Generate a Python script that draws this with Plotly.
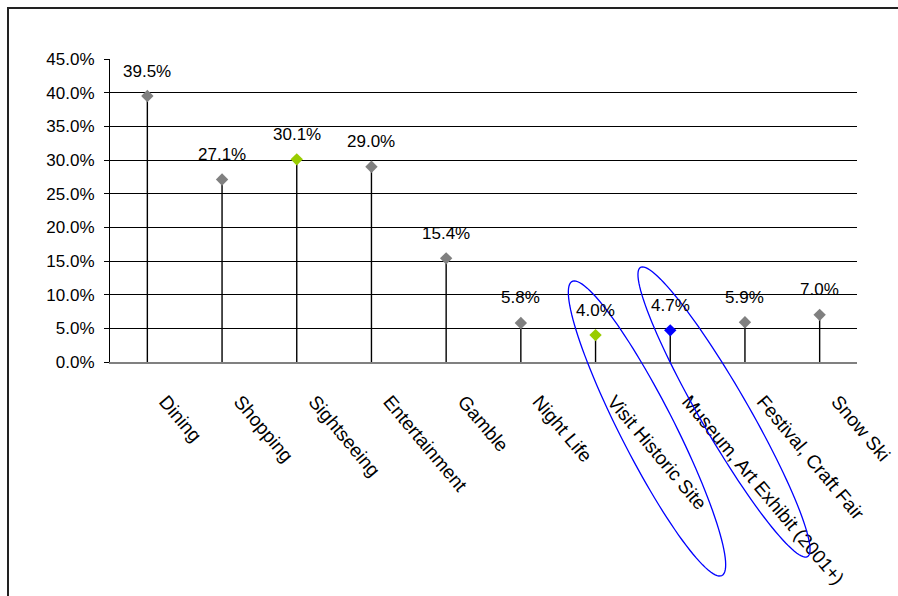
import numpy as np
import plotly.graph_objects as go

# Share of visitors taking part in each activity
categories = [
    "Dining", "Shopping", "Sightseeing", "Entertainment", "Gamble",
    "Night Life", "Visit Historic Site", "Museum, Art Exhibit (2001+)",
    "Festival, Craft Fair", "Snow Ski",
]
shares = [0.395, 0.271, 0.301, 0.290, 0.154, 0.058, 0.040, 0.047, 0.059, 0.070]
marker_colors = [
    "#808080", "#808080", "#99CC00", "#808080", "#808080",
    "#808080", "#99CC00", "#0000FF", "#808080", "#808080",
]
y_ticks = [0.0, 0.05, 0.10, 0.15, 0.20, 0.25, 0.30, 0.35, 0.40, 0.45]

W, H = 898, 596
ML, MR, MT, MB = 110, 41, 59, 234
PW, PH = W - ML - MR, H - MT - MB
FONT = "Liberation Sans, Arial, sans-serif"
FS = 17
FS_CAT = 19


def px_to_paper(px, py):
    return (px - ML) / PW, (H - MB - py) / PH


def ellipse_path(cx, cy, a, b, angle_deg, n=120):
    t = np.linspace(0, 2 * np.pi, n)
    phi = np.radians(angle_deg)
    xs = cx + a * np.cos(t) * np.cos(phi) - b * np.sin(t) * np.sin(phi)
    ys = cy + a * np.cos(t) * np.sin(phi) + b * np.sin(t) * np.cos(phi)
    pts = [px_to_paper(x, y) for x, y in zip(xs, ys)]
    return "M " + " L ".join(f"{x:.5f},{y:.5f}" for x, y in pts) + " Z"


fig = go.Figure()

# Drop lines from each point down to the axis
drop_x, drop_y = [], []
for c, v in zip(categories, shares):
    drop_x += [c, c, None]
    drop_y += [0, v, None]
fig.add_trace(go.Scatter(
    x=drop_x, y=drop_y, mode="lines",
    line=dict(color="#000000", width=1.4),
    hoverinfo="skip", showlegend=False, cliponaxis=False,
))

# Diamond markers
fig.add_trace(go.Scatter(
    x=categories, y=shares, mode="markers",
    marker=dict(symbol="diamond", size=9.5, color=marker_colors, line=dict(width=0)),
    showlegend=False, cliponaxis=False,
))

# Value labels above the markers
for c, v in zip(categories, shares):
    fig.add_annotation(
        x=c, y=v, text=f"{v:.1%}", showarrow=False, yshift=25,
        font=dict(family=FONT, size=FS, color="#000000"),
    )

# Outer chart border
x0, y0 = px_to_paper(8, 640)
x1, y1 = px_to_paper(960, 8)
fig.add_shape(type="rect", xref="paper", yref="paper", x0=x0, y0=y0, x1=x1, y1=y1,
              line=dict(color="#222222", width=2), layer="below")

# Highlight ellipses
for cx, cy, a, b, ang in [(647, 428.5, 165, 27, 63), (724, 412, 167, 24, 60)]:
    fig.add_shape(type="path", xref="paper", yref="paper",
                  path=ellipse_path(cx, cy, a, b, ang),
                  line=dict(color="#0000FF", width=1.3), fillcolor="rgba(0,0,0,0)")

fig.update_layout(
    width=W, height=H,
    margin=dict(l=ML, r=MR, t=MT, b=MB),
    paper_bgcolor="#FFFFFF", plot_bgcolor="#FFFFFF",
    font=dict(family=FONT, size=FS, color="#000000"),
    xaxis=dict(
        type="category", range=[-0.5, len(categories) - 0.5],
        automargin=False,
        showgrid=False, zeroline=False,
        showline=True, linecolor="#808080", linewidth=1.5,
        ticks="", tickangle=50,
        ticklabelstandoff=19, ticklabelshift=18,
        tickfont=dict(family=FONT, size=FS_CAT, color="#000000"),
    ),
    yaxis=dict(
        range=[0, 0.45], tickvals=y_ticks, tickformat=".1%",
        automargin=False,
        showgrid=True, gridcolor="#000000", gridwidth=1,
        zeroline=False,
        showline=True, linecolor="#000000", linewidth=1.2,
        ticks="outside", ticklen=5, tickcolor="#000000", tickwidth=1,
        ticklabelstandoff=6,
        tickfont=dict(family=FONT, size=FS, color="#000000"),
    ),
)

fig.write_html("out.html")
